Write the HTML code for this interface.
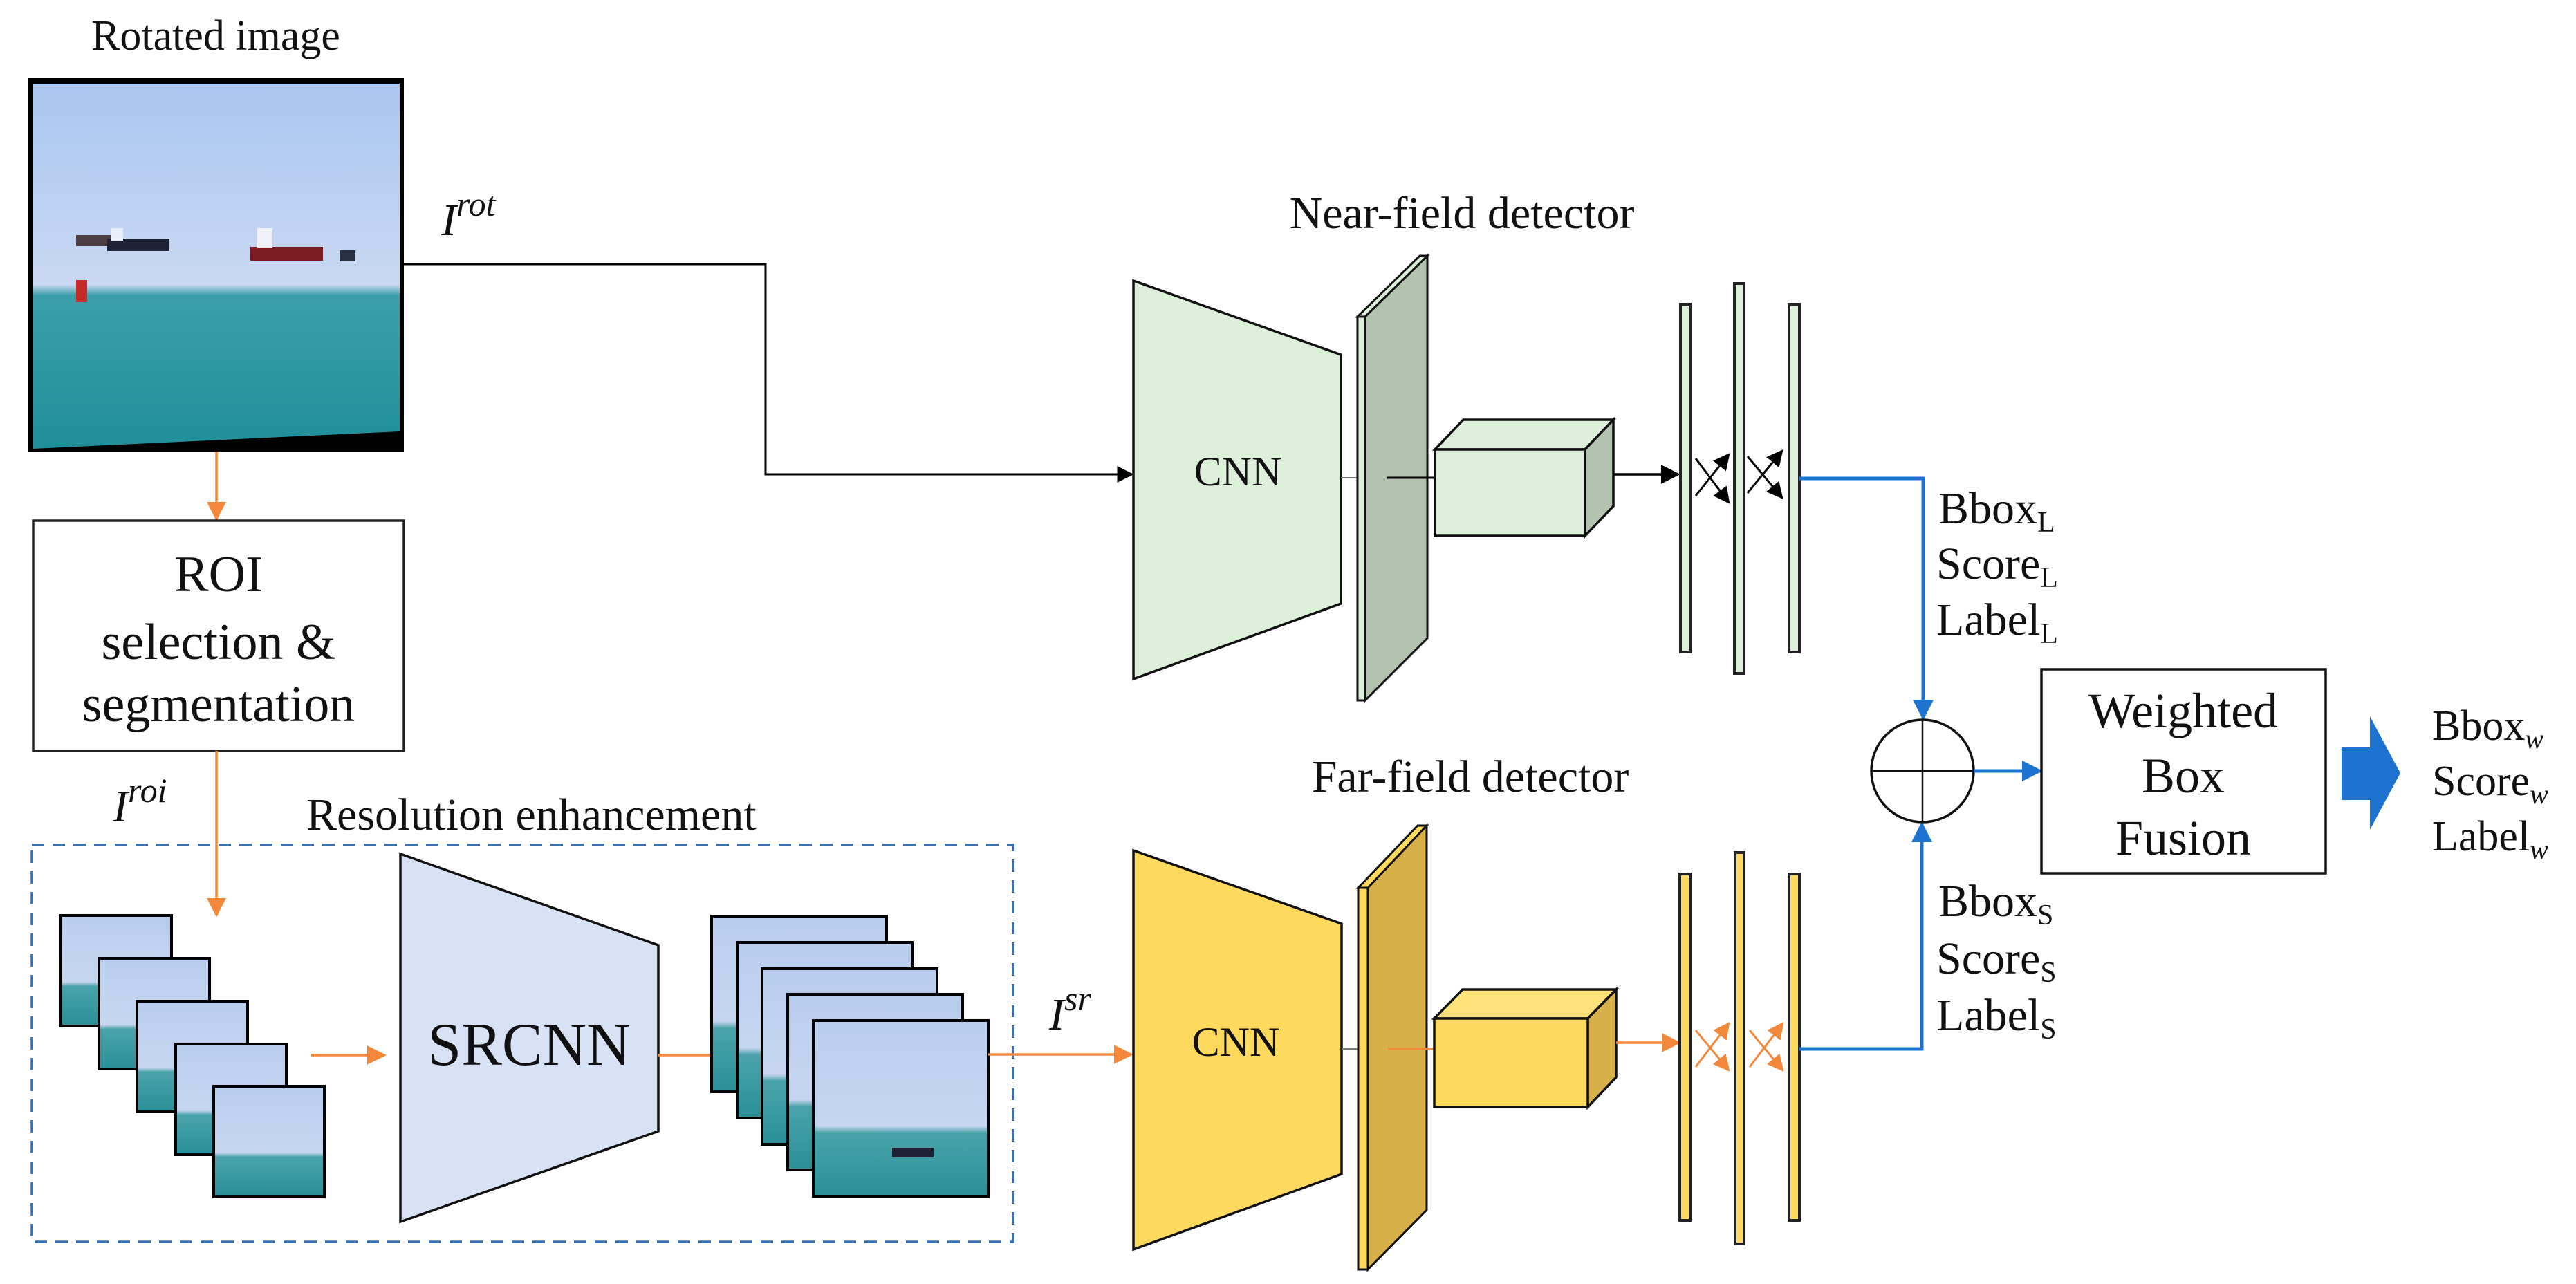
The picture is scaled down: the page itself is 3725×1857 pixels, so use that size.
<!DOCTYPE html>
<html><head><meta charset="utf-8"><style>
html,body{margin:0;padding:0;background:#fff;}
svg{display:block;}
text{font-family:"Liberation Serif","DejaVu Serif","Noto Serif CJK SC",serif;fill:#111;}
</style></head><body>
<svg width="3725" height="1857" viewBox="0 0 3725 1857" xmlns="http://www.w3.org/2000/svg" font-family="Liberation Serif, DejaVu Serif, serif">
<defs>
<linearGradient id="sky" x1="0" y1="0" x2="0" y2="1">
<stop offset="0" stop-color="#a9c6f0"/><stop offset="0.55" stop-color="#c9d8f3"/><stop offset="0.58" stop-color="#3a9fa8"/><stop offset="1" stop-color="#1f8f9a"/>
</linearGradient>
<linearGradient id="sm" x1="0" y1="0" x2="0" y2="1">
<stop offset="0" stop-color="#b9cdee"/><stop offset="0.6" stop-color="#c6d6f0"/><stop offset="0.64" stop-color="#4aa3aa"/><stop offset="1" stop-color="#2a8f98"/>
</linearGradient>
<marker id="ab" viewBox="0 0 10 10" refX="9" refY="5" markerWidth="8" markerHeight="8" orient="auto"><path d="M0,0 L10,5 L0,10 z" fill="#000"/></marker>
<marker id="ao" viewBox="0 0 10 10" refX="9" refY="5" markerWidth="8" markerHeight="8" orient="auto"><path d="M0,0 L10,5 L0,10 z" fill="#f4883a"/></marker>
<marker id="abl" viewBox="0 0 10 10" refX="9" refY="5" markerWidth="6" markerHeight="6" orient="auto"><path d="M0,0 L10,5 L0,10 z" fill="#1f73d0"/></marker>
</defs>

<!-- Rotated image -->
<text x="312" y="72" font-size="62" text-anchor="middle">Rotated image</text>
<rect x="40" y="113" width="544" height="540" fill="#000"/>
<polygon points="48,121 578,121 578,624 48,649" fill="url(#sky)"/>
<rect x="110" y="340" width="50" height="16" fill="#4a3d46"/>
<rect x="155" y="345" width="90" height="18" fill="#1e2236"/>
<rect x="160" y="330" width="18" height="18" fill="#e8eef5"/>
<rect x="362" y="357" width="105" height="20" fill="#7c1d24"/>
<rect x="372" y="330" width="22" height="28" fill="#eef2f6"/>
<rect x="492" y="362" width="22" height="16" fill="#2a3044"/>
<rect x="110" y="405" width="16" height="32" fill="#c42a2a"/>
<text x="638" y="340" font-size="66" font-style="italic">I<tspan font-size="50" dy="-28">rot</tspan></text>
<polyline points="584,382 1107,382 1107,686 1637,686" fill="none" stroke="#000" stroke-width="3" marker-end="url(#ab)"/>

<!-- ROI -->
<line x1="313" y1="653" x2="313" y2="751" stroke="#f4883a" stroke-width="3.5" marker-end="url(#ao)"/>
<rect x="48" y="753" width="536" height="333" fill="#fff" stroke="#222" stroke-width="3.5"/>
<text x="316" y="855" font-size="74" text-anchor="middle">ROI</text>
<text x="316" y="953" font-size="74" text-anchor="middle">selection &amp;</text>
<text x="316" y="1043" font-size="74" text-anchor="middle">segmentation</text>
<line x1="313" y1="1086" x2="313" y2="1324" stroke="#f4883a" stroke-width="3.5" marker-end="url(#ao)"/>
<text x="163" y="1188" font-size="66" font-style="italic">I<tspan font-size="50" dy="-28">roi</tspan></text>

<!-- Resolution enhancement -->
<text x="443" y="1200" font-size="66">Resolution enhancement</text>
<rect x="46" y="1222" width="1419" height="574" fill="none" stroke="#3a6fb0" stroke-width="3.5" stroke-dasharray="18,12"/>
<g stroke="#000" stroke-width="4">
<rect x="88" y="1324" width="160" height="160" fill="url(#sm)"/>
<rect x="143" y="1386" width="160" height="160" fill="url(#sm)"/>
<rect x="198" y="1448" width="160" height="160" fill="url(#sm)"/>
<rect x="254" y="1510" width="160" height="160" fill="url(#sm)"/>
<rect x="309" y="1571" width="160" height="160" fill="url(#sm)"/>
</g>
<line x1="450" y1="1526" x2="556" y2="1526" stroke="#f4883a" stroke-width="3.5" marker-end="url(#ao)"/>
<polygon points="579,1235 952,1367 952,1636 579,1767" fill="#d7e3f4" stroke="#111" stroke-width="3.5"/>
<text x="765" y="1540" font-size="88" text-anchor="middle">SRCNN</text>
<line x1="952" y1="1526" x2="1053" y2="1526" stroke="#f4883a" stroke-width="3.5" marker-end="url(#ao)"/>
<g stroke="#000" stroke-width="4">
<rect x="1029" y="1325" width="253" height="254" fill="url(#sm)"/>
<rect x="1066" y="1363" width="253" height="254" fill="url(#sm)"/>
<rect x="1102" y="1401" width="253" height="254" fill="url(#sm)"/>
<rect x="1139" y="1438" width="253" height="254" fill="url(#sm)"/>
<rect x="1176" y="1476" width="253" height="254" fill="url(#sm)"/>
</g>
<rect x="1290" y="1660" width="60" height="14" fill="#1e2236"/>
<line x1="1429" y1="1525" x2="1636" y2="1525" stroke="#f4883a" stroke-width="3.5" marker-end="url(#ao)"/>
<text x="1517" y="1489" font-size="66" font-style="italic">I<tspan font-size="50" dy="-28">sr</tspan></text>

<!-- Near-field -->
<text x="2114" y="330" font-size="66" text-anchor="middle">Near-field detector</text>
<polygon points="1639,406 1939,513 1939,873 1639,982" fill="#dcefd9" stroke="#111" stroke-width="3.5"/>
<text x="1790" y="702" font-size="60" text-anchor="middle">CNN</text>
<line x1="1939" y1="691" x2="1964" y2="691" stroke="#777" stroke-width="2"/>
<polygon points="1974,458 2064,370 2064,923 1974,1013" fill="#b3c4ae" stroke="#111" stroke-width="3"/>
<polygon points="1963,458 1974,458 2064,370 2053,370" fill="#dcefd9" stroke="#111" stroke-width="3"/>
<rect x="1963" y="458" width="11" height="555" fill="#dcefd9" stroke="#111" stroke-width="3"/>
<line x1="2006" y1="691" x2="2075" y2="691" stroke="#000" stroke-width="3"/>
<polygon points="2075,650 2116,607 2333,607 2292,650" fill="#dcefd9" stroke="#111" stroke-width="3.5"/>
<polygon points="2292,650 2333,607 2333,732 2292,775" fill="#b3c4ae" stroke="#111" stroke-width="3.5"/>
<rect x="2075" y="650" width="217" height="125" fill="#dcefd9" stroke="#111" stroke-width="3.5"/>
<line x1="2333" y1="686" x2="2427" y2="686" stroke="#000" stroke-width="3.5" marker-end="url(#ab)"/>
<g fill="#dcefd9" stroke="#222" stroke-width="4">
<rect x="2430" y="440" width="14" height="503"/>
<rect x="2508" y="410" width="14" height="564"/>
<rect x="2587" y="440" width="15" height="503"/>
</g>
<g stroke="#000" stroke-width="3">
<line x1="2452" y1="663" x2="2500" y2="727" marker-end="url(#ab)"/>
<line x1="2452" y1="717" x2="2500" y2="657" marker-end="url(#ab)"/>
<line x1="2527" y1="660" x2="2577" y2="720" marker-end="url(#ab)"/>
<line x1="2527" y1="713" x2="2577" y2="652" marker-end="url(#ab)"/>
</g>
<polyline points="2602,692 2781,692 2781,1039" fill="none" stroke="#1f73d0" stroke-width="5" marker-end="url(#abl)"/>
<text x="2803" y="757" font-size="66">Bbox<tspan font-size="42" dy="12">L</tspan></text>
<text x="2800" y="837" font-size="66">Score<tspan font-size="42" dy="12">L</tspan></text>
<text x="2800" y="918" font-size="66">Label<tspan font-size="42" dy="12">L</tspan></text>

<!-- Far-field -->
<text x="2126" y="1145" font-size="66" text-anchor="middle">Far-field detector</text>
<polygon points="1639,1230 1940,1336 1940,1698 1639,1807" fill="#ffd95e" stroke="#111" stroke-width="3.5"/>
<text x="1787" y="1527" font-size="60" text-anchor="middle">CNN</text>
<line x1="1940" y1="1517" x2="1964" y2="1517" stroke="#777" stroke-width="2"/>
<polygon points="1978,1284 2063,1194 2063,1750 1978,1836" fill="#d8b04a" stroke="#111" stroke-width="3"/>
<polygon points="1964,1284 1978,1284 2063,1194 2050,1194" fill="#ffd95e" stroke="#111" stroke-width="3"/>
<rect x="1964" y="1284" width="14" height="552" fill="#ffd95e" stroke="#111" stroke-width="3"/>
<line x1="2007" y1="1517" x2="2074" y2="1517" stroke="#f4883a" stroke-width="3"/>
<polygon points="2074,1473 2115,1431 2337,1431 2296,1473" fill="#ffe27a" stroke="#111" stroke-width="3.5"/>
<polygon points="2296,1473 2337,1431 2337,1558 2296,1601" fill="#d8b04a" stroke="#111" stroke-width="3.5"/>
<rect x="2074" y="1473" width="222" height="128" fill="#ffd95e" stroke="#111" stroke-width="3.5"/>
<line x1="2337" y1="1508" x2="2428" y2="1508" stroke="#f4883a" stroke-width="3.5" marker-end="url(#ao)"/>
<g fill="#ffd95e" stroke="#222" stroke-width="4">
<rect x="2429" y="1264" width="15" height="501"/>
<rect x="2509" y="1233" width="13" height="566"/>
<rect x="2587" y="1264" width="15" height="501"/>
</g>
<g stroke="#f4883a" stroke-width="3">
<line x1="2452" y1="1490" x2="2500" y2="1548" marker-end="url(#ao)"/>
<line x1="2452" y1="1543" x2="2500" y2="1480" marker-end="url(#ao)"/>
<line x1="2530" y1="1490" x2="2578" y2="1548" marker-end="url(#ao)"/>
<line x1="2530" y1="1543" x2="2578" y2="1480" marker-end="url(#ao)"/>
</g>
<polyline points="2602,1517 2779,1517 2779,1191" fill="none" stroke="#1f73d0" stroke-width="5" marker-end="url(#abl)"/>
<text x="2803" y="1325" font-size="66">Bbox<tspan font-size="42" dy="12">S</tspan></text>
<text x="2800" y="1408" font-size="66">Score<tspan font-size="42" dy="12">S</tspan></text>
<text x="2800" y="1490" font-size="66">Label<tspan font-size="42" dy="12">S</tspan></text>

<!-- Fusion -->
<circle cx="2780" cy="1115" r="74" fill="#fff" stroke="#111" stroke-width="3.5"/>
<line x1="2706" y1="1115" x2="2854" y2="1115" stroke="#111" stroke-width="2.5"/>
<line x1="2780" y1="1041" x2="2780" y2="1189" stroke="#111" stroke-width="2.5"/>
<line x1="2854" y1="1115" x2="2951" y2="1115" stroke="#1f73d0" stroke-width="5" marker-end="url(#abl)"/>
<rect x="2952" y="968" width="411" height="295" fill="#fff" stroke="#111" stroke-width="3.5"/>
<text x="3157" y="1052" font-size="72" text-anchor="middle">Weighted</text>
<text x="3157" y="1146" font-size="72" text-anchor="middle">Box</text>
<text x="3157" y="1236" font-size="72" text-anchor="middle">Fusion</text>
<polygon points="3386,1081 3427,1081 3427,1036 3471,1118 3427,1200 3427,1157 3386,1157" fill="#1f73d0"/>
<text x="3517" y="1070" font-size="62">Bbox<tspan font-size="40" dy="12" font-style="italic">w</tspan></text>
<text x="3517" y="1150" font-size="62">Score<tspan font-size="40" dy="12" font-style="italic">w</tspan></text>
<text x="3517" y="1230" font-size="62">Label<tspan font-size="40" dy="12" font-style="italic">w</tspan></text>
</svg>
</body></html>
